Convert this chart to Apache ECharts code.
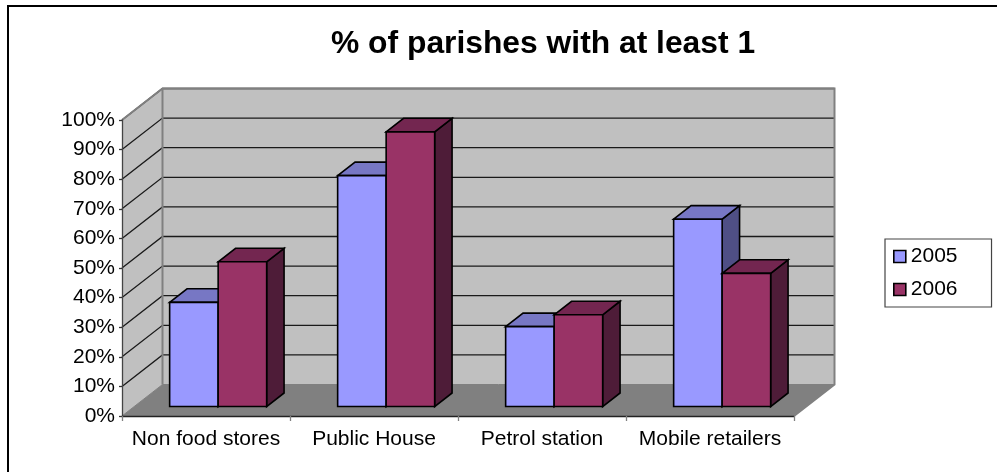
<!DOCTYPE html>
<html><head><meta charset="utf-8">
<style>html,body{margin:0;padding:0;background:#fff}#c{width:997px;height:472px}</style>
<script src="https://cdn.jsdelivr.net/npm/echarts@6/dist/echarts.min.js"></script>
</head><body><div id="c"></div>
<script>
const categories = ['Non food stores', 'Public House', 'Petrol station', 'Mobile retailers'];
const values2005 = [35.2, 78, 27, 63.3];
const values2006 = [48.9, 92.8, 31, 45];
const yTicks = [0, 10, 20, 30, 40, 50, 60, 70, 80, 90, 100];

const FONT = '"Liberation Sans", Arial, sans-serif';
const DEPTH_X = 40.5, DEPTH_Y = 31.5;      // floor depth in pixels
const BAR_NEAR = 0.3, BAR_FAR = 0.73;      // bar position along the depth
const BAR_BAND = 0.2887;                   // bar width as share of category

function wallItem(params, api) {
  const cs = params.coordSys;
  const l = cs.x, r = cs.x + cs.width, t = cs.y, b = cs.y + cs.height;
  const wallStyle = { fill: '#C0C0C0', stroke: null };
  return { type: 'group', children: [
    { type: 'polygon', shape: { points: [[l, b], [l + DEPTH_X, b - DEPTH_Y], [l + DEPTH_X, t - DEPTH_Y], [l, t]] }, style: wallStyle },
    { type: 'polygon', shape: { points: [[l + DEPTH_X, t - DEPTH_Y], [r + DEPTH_X, t - DEPTH_Y], [r + DEPTH_X, b - DEPTH_Y], [l + DEPTH_X, b - DEPTH_Y]] }, style: wallStyle },
    { type: 'polygon', shape: { points: [[l, b], [r, b], [r + DEPTH_X, b - DEPTH_Y], [l + DEPTH_X, b - DEPTH_Y]] }, style: { fill: '#808080', stroke: null } }
  ]};
}
function gridItem(params, api) {
  const cs = params.coordSys;
  const v = api.value(0);
  const y = api.coord([0, v])[1];
  const l = cs.x, r = cs.x + cs.width;
  const line = { stroke: '#1a1a1a', lineWidth: 1.3, fill: null };
  const kids = [];
  if (v > 0) {
    kids.push({ type: 'polyline', shape: { points: [[l, y], [l + DEPTH_X, y - DEPTH_Y], [r + DEPTH_X, y - DEPTH_Y]] }, style: line });
  }
  return { type: 'group', children: kids };
}
function edgeItem(params, api) {
  const cs = params.coordSys;
  const l = cs.x, r = cs.x + cs.width, t = cs.y, b = cs.y + cs.height;
  const edge = { stroke: '#808080', lineWidth: 2, fill: null };
  return { type: 'group', children: [
    { type: 'polyline', shape: { points: [[l, t], [l + DEPTH_X, t - DEPTH_Y], [r + DEPTH_X, t - DEPTH_Y], [r + DEPTH_X, b - DEPTH_Y], [r, b]] }, style: edge },
    { type: 'polyline', shape: { points: [[l, b], [l + DEPTH_X, b - DEPTH_Y], [r + DEPTH_X, b - DEPTH_Y]] }, style: { stroke: '#808080', lineWidth: 1, fill: null } },
    { type: 'line', shape: { x1: l + DEPTH_X, y1: t - DEPTH_Y, x2: l + DEPTH_X, y2: b - DEPTH_Y }, style: edge }
  ]};
}
function barRenderer(seriesIndex, front, top, side) {
  return function (params, api) {
    const cat = api.value(0);
    const p = api.coord([cat, api.value(1)]);
    const base = api.coord([cat, 0]);
    const band = api.size([1, 0])[0];
    const w = band * BAR_BAND;
    const x0 = p[0] - w + seriesIndex * w;
    const nx = DEPTH_X * BAR_NEAR, ny = DEPTH_Y * BAR_NEAR;
    const dx = DEPTH_X * (BAR_FAR - BAR_NEAR), dy = DEPTH_Y * (BAR_FAR - BAR_NEAR);
    const L = x0 + nx, R = L + w, T = p[1] - ny, B = base[1] - ny;
    const s = { stroke: '#000', lineWidth: 1.6, lineJoin: 'miter' };
    return { type: 'group', children: [
      { type: 'polygon', shape: { points: [[R, T], [R + dx, T - dy], [R + dx, B - dy], [R, B]] }, style: Object.assign({ fill: side }, s) },
      { type: 'polygon', shape: { points: [[L, T], [L + dx, T - dy], [R + dx, T - dy], [R, T]] }, style: Object.assign({ fill: top }, s) },
      { type: 'rect', shape: { x: L, y: T, width: w, height: B - T }, style: Object.assign({ fill: front }, s) }
    ]};
  };
}
const chart = echarts.init(document.getElementById('c'), null, { renderer: 'canvas' });
chart.setOption({
  animation: false,
  backgroundColor: '#fff',
  title: { text: '% of parishes with at least 1', left: 331, top: 28, padding: 0,
    textStyle: { fontFamily: FONT, fontSize: 31.8, fontWeight: 'bold', color: '#000' } },
  grid: { left: 122, right: 203, top: 120, bottom: 56 },
  legend: { orient: 'vertical', left: 885, top: 239, data: ['2005', '2006'], icon: 'rect',
    itemWidth: 12, itemHeight: 12, itemGap: 12, padding: [7, 34, 7, 8], borderColor: '#444', borderWidth: 1.2,
    backgroundColor: '#fff', textStyle: { fontFamily: FONT, fontSize: 21, color: '#000' },
    itemStyle: { borderColor: '#000', borderWidth: 1.6 } },
  xAxis: { type: 'category', data: categories, z: 10,
    axisLine: { lineStyle: { color: '#222', width: 1.3 } },
    axisTick: { show: true, length: 5, interval: 0, alignWithLabel: false, lineStyle: { color: '#808080', width: 1.3 } },
    axisLabel: { fontFamily: FONT, fontSize: 21, color: '#000', margin: 13, interval: 0 } },
  yAxis: { type: 'value', min: 0, max: 100, interval: 10, z: 10,
    axisLine: { show: true, lineStyle: { color: '#444', width: 1.3 } },
    axisTick: { show: true, length: 3, lineStyle: { color: '#333', width: 1.3 } },
    splitLine: { show: false },
    axisLabel: { fontFamily: FONT, fontSize: 21, color: '#000', margin: 7, formatter: '{value}%' } },
  graphic: [
    { type: 'polyline', shape: { points: [[8, 472], [8, 6], [997, 6]] }, style: { stroke: '#000', lineWidth: 2, fill: null } }
  ],
  series: [
    { type: 'custom', name: 'walls', renderItem: wallItem, data: [0], z: 1, silent: true, clip: false },
    { type: 'custom', name: 'grid', renderItem: gridItem, data: yTicks.map(v => [v]), encode: { y: 0 }, z: 2, silent: true, clip: false },
    { type: 'custom', name: 'edges', renderItem: edgeItem, data: [0], z: 3, silent: true, clip: false },
    { type: 'custom', name: '2005', renderItem: barRenderer(0, '#9999FF', '#7777C4', '#4F4F85'),
      data: values2005.map((v, i) => [i, v]), encode: { x: 0, y: 1 }, itemStyle: { color: '#9999FF' }, z: 4, clip: false },
    { type: 'custom', name: '2006', renderItem: barRenderer(1, '#993366', '#732650', '#4E1C38'),
      data: values2006.map((v, i) => [i, v]), encode: { x: 0, y: 1 }, itemStyle: { color: '#993366' }, z: 4, clip: false }
  ]
});
</script></body></html>
